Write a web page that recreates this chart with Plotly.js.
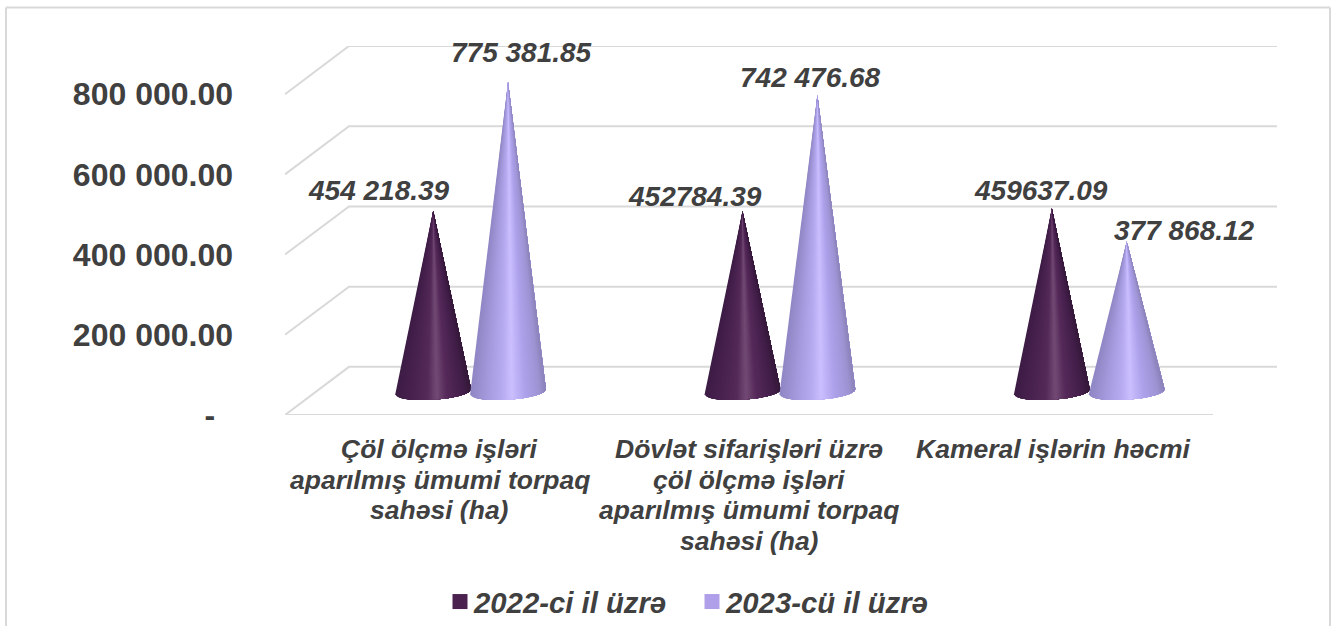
<!DOCTYPE html>
<html>
<head>
<meta charset="utf-8">
<script src="https://cdn.plot.ly/plotly-3.0.1.min.js"></script>
<style>html,body{margin:0;padding:0;background:#fff;overflow:hidden}#chart{width:1333px;height:626px}</style>
</head>
<body>
<div id="chart"></div>
<script>
// ---- data ----
const categoryLines = [
  ["Çöl ölçmə işləri", "aparılmış ümumi torpaq", "sahəsi (ha)"],
  ["Dövlət sifarişləri üzrə", "çöl ölçmə işləri", "aparılmış ümumi torpaq", "sahəsi (ha)"],
  ["Kameral işlərin həcmi"]
];
const seriesNames = ["2022-ci il üzrə", "2023-cü il üzrə"];
const values2022 = [454218.39, 452784.39, 459637.09];
const values2023 = [775381.85, 742476.68, 377868.12];
const labels2022 = ["454 218.39", "452784.39", "459637.09"];
const labels2023 = ["775 381.85", "742 476.68", "377 868.12"];
const tickValues = [0, 200000, 400000, 600000, 800000];
const tickLabels = ["-\u00A0\u00A0", "200 000.00", "400 000.00", "600 000.00", "800 000.00"];

// ---- style / layout constants ----
const GRID = "#d9d9d9", TEXT = "#404040", FONT = "'Liberation Sans', Arial, sans-serif";
const PL = 285, PR = 1277, PT = 46, PB = 415, W = 1333, H = 626;
const X0 = -0.5, X3 = 2.5, XB = 64 / 309.33;       // depth shift in category units
const YDEPTH = 120000;                              // back wall height shift
const YTOP = 800000 + YDEPTH;
const CONE_DX = 0.1, CONE_SEP = 0.121, CONE_A = 0.1225;
const TIP_Y = 55000, BASE_Y = 58000, BASE_B = 20000, BASE_TILT = 6000;
const SLICES = 60;
const stops = [
  [[0,"#3d1c45"],[0.18,"#47214e"],[0.42,"#542a58"],[0.55,"#724a74"],[0.68,"#562a5a"],[0.9,"#421e49"],[1,"#351839"]],
  [[0,"#8f86c4"],[0.2,"#a298da"],[0.42,"#b6aaf0"],[0.55,"#cbbfff"],[0.72,"#aea2ec"],[0.92,"#9d93d2"],[1,"#8a82b8"]]
];
const legendColors = ["#4b2150", "#ae9fe8"];
const labelShift = [
  [[-54, -20], [-48, -15], [-11, -18]],
  [[13, -29], [-7, -18], [58, -11]]
];

function hex(c){return [1,3,5].map(i=>parseInt(c.substr(i,2),16));}
function colorAt(st,f){
  for(let i=1;i<st.length;i++){
    if(f<=st[i][0]){
      const k=(f-st[i-1][0])/(st[i][0]-st[i-1][0]);
      const a=hex(st[i-1][1]),b=hex(st[i][1]);
      return "rgb("+a.map((v,j)=>Math.round(v+(b[j]-v)*k)).join(",")+")";
    }
  }
  return st[st.length-1][1];
}

const traces = [];
// perspective grid lines
tickValues.forEach(v=>{
  traces.push({type:"scatter",mode:"lines",x:[X0,X0+XB,X3+XB],y:[v,v+YDEPTH,v+YDEPTH],
    line:{color:GRID,width:2},hoverinfo:"skip",showlegend:false,cliponaxis:false});
});
traces.push({type:"scatter",mode:"lines",x:[X0,X3],y:[0,0],line:{color:GRID,width:2},
  hoverinfo:"skip",showlegend:false,cliponaxis:false});

// cones: overlapping layers, each covering from its own left edge to the cone's right rim,
// so the horizontal shading has no seams
function addCone(cx,val,st){
  const by=u=>BASE_Y-BASE_B*Math.sqrt(Math.max(0,1-u*u))+BASE_TILT*u;
  for(let i=0;i<SLICES;i++){
    const xs=[cx],ys=[val+TIP_Y];
    for(let j=i;j<=SLICES;j++){
      const u=-1+2*j/SLICES;
      xs.push(cx+CONE_A*u);ys.push(by(u));
    }
    xs.push(cx);ys.push(val+TIP_Y);
    const col=colorAt(st,(i+0.5)/SLICES);
    traces.push({type:"scatter",mode:"lines",fill:"toself",fillcolor:col,x:xs,y:ys,
      line:{width:0},hoverinfo:"skip",showlegend:false,cliponaxis:false});
  }
}
[values2022,values2023].forEach((vals,s)=>{
  vals.forEach((v,i)=>addCone(i+CONE_DX+(s===0?-1:1)*CONE_SEP,v,stops[s]));
});

// legend entries
seriesNames.forEach((n,s)=>{
  traces.push({type:"scatter",mode:"markers",name:n,x:[null],y:[null],
    marker:{symbol:"square",size:15,color:legendColors[s]},hoverinfo:"skip"});
});

const annotations = [];
// category labels
categoryLines.forEach((lines,i)=>{
  lines.forEach((t,k)=>{
    annotations.push({xref:"x",yref:"y",x:i===2?i-0.016:i,y:0,text:t,showarrow:false,
      xanchor:"center",yanchor:"middle",yshift:-(34+30.5*k),
      font:{family:FONT,size:26.5,color:TEXT,weight:700,style:"italic"}});
  });
});
// value labels
[[values2022,labels2022],[values2023,labels2023]].forEach(([vals,labs],s)=>{
  vals.forEach((v,i)=>{
    annotations.push({xref:"x",yref:"y",x:i+CONE_DX+(s===0?-1:1)*CONE_SEP,y:v+TIP_Y,text:labs[i],showarrow:false,
      xanchor:"center",yanchor:"middle",xshift:labelShift[s][i][0],yshift:-labelShift[s][i][1],
      font:{family:FONT,size:28,color:TEXT,weight:700,style:"italic"}});
  });
});

// chart-area frame, open at the bottom edge of the picture
const px=x=>(x-PL)/(PR-PL), py=y=>(PB-y)/(PB-PT);
const frame=(x0,y0,x1,y1)=>({type:"line",xref:"paper",yref:"paper",x0:px(x0),y0:py(y0),x1:px(x1),y1:py(y1),
  line:{color:GRID,width:2},layer:"below"});

const layout = {
  width:W,height:H,
  margin:{l:PL,r:W-PR,t:PT,b:H-PB,pad:0},
  paper_bgcolor:"#fff",plot_bgcolor:"rgba(0,0,0,0)",
  font:{family:FONT,color:TEXT},
  hovermode:false,
  xaxis:{range:[X0,X3+XB],showgrid:false,zeroline:false,showline:false,showticklabels:false,ticks:"",fixedrange:true},
  yaxis:{range:[0,YTOP],showgrid:false,zeroline:false,showline:false,ticks:"",tickmode:"array",
    tickvals:tickValues,ticktext:tickLabels,ticklabelstandoff:51,fixedrange:true,
    tickfont:{family:FONT,size:32,color:TEXT,weight:700}},
  legend:{orientation:"h",xref:"container",yref:"container",x:434/W,y:1-602/H,xanchor:"left",yanchor:"middle",
    entrywidth:207,entrywidthmode:"pixels",
    font:{family:FONT,size:29.3,color:TEXT,weight:700,style:"italic"},itemclick:false,itemdoubleclick:false,bgcolor:"rgba(0,0,0,0)"},
  annotations:annotations,
  shapes:[frame(6,7.5,1330,7.5),frame(6,7.5,6,640),frame(1330,7.5,1330,640)]
};
Plotly.newPlot("chart",traces,layout,{displayModeBar:false,staticPlot:true}).then(()=>{
  // the legend keeps a fixed gap before its text; move the swatches closer to it
  document.querySelectorAll(".legend .legendsymbols").forEach(e=>e.setAttribute("transform","translate(6,0)"));
});
</script>
</body>
</html>
